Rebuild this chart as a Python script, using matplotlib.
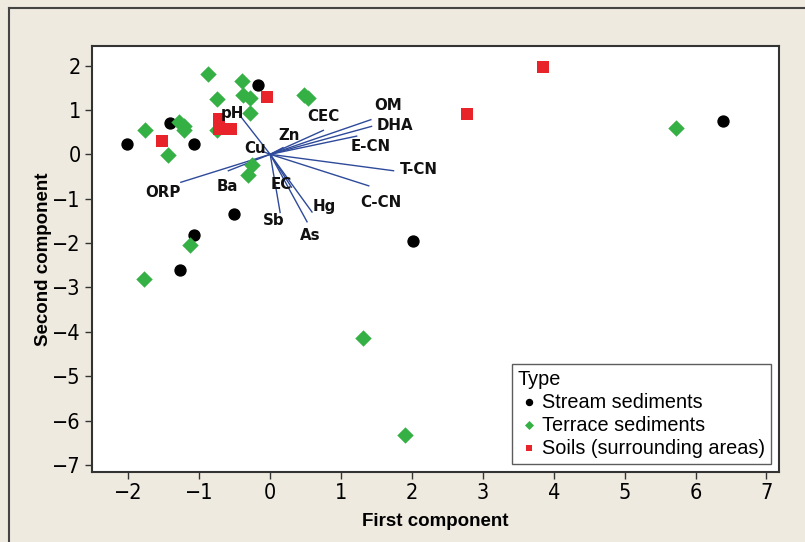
import matplotlib.pyplot as plt
from matplotlib.lines import Line2D

# PCA scores
stream_x = [-2.02, -1.41, -1.07, -0.17, -0.51, -1.07, -1.27, 2.02, 6.38]
stream_y = [0.23, 0.71, 0.23, 1.57, -1.35, -1.81, -2.61, -1.95, 0.74]

terrace_x = [-0.88, -0.40, 0.48, 0.53, -0.75, -0.38, -0.28, -0.29, -1.29, -1.22,
             -1.21, -1.76, -1.44, -0.75, -0.25, -0.31, -1.13, -1.78, 1.31, 1.90, 5.72]
terrace_y = [1.81, 1.65, 1.33, 1.28, 1.24, 1.33, 1.27, 0.93, 0.73, 0.64,
             0.55, 0.55, -0.01, 0.55, -0.23, -0.46, -2.04, -2.82, -4.13, -6.32, 0.60]

soil_x = [-0.05, -0.72, -0.72, -0.55, -1.53, 2.77, 3.85]
soil_y = [1.30, 0.80, 0.57, 0.57, 0.30, 0.91, 1.96]

# loading vectors and their labels
var_names = ["pH", "Cu", "Zn", "CEC", "OM", "DHA", "E-CN", "T-CN", "C-CN",
             "Hg", "As", "Sb", "EC", "Ba", "ORP"]
vec_x = [-0.43, -0.08, 0.18, 0.75, 1.42, 1.43, 1.22, 1.74, 1.39,
         0.59, 0.52, 0.14, 0.30, -0.59, -1.26]
vec_y = [0.88, 0.05, 0.15, 0.54, 0.78, 0.63, 0.41, -0.37, -0.71,
         -1.30, -1.52, -1.31, -0.74, -0.37, -0.63]
lab_x = [-0.53, -0.21, 0.27, 0.75, 1.67, 1.76, 1.42, 2.10, 1.56,
         0.76, 0.56, 0.05, 0.16, -0.60, -1.51]
lab_y = [0.93, 0.14, 0.42, 0.86, 1.09, 0.66, 0.18, -0.35, -1.08,
         -1.17, -1.83, -1.50, -0.67, -0.72, -0.87]

bg = "#EFEAE0"
fig = plt.figure(figsize=(8.05, 5.42), dpi=100, facecolor=bg)
ax = fig.add_axes([0.1143, 0.1297, 0.853, 0.7854])
ax.set_facecolor("white")

# outer frame lines (top and left)
fig.add_artist(Line2D([0.011, 1.0], [0.985, 0.985], color="#444444", lw=1.5,
                      transform=fig.transFigure))
fig.add_artist(Line2D([0.011, 0.011], [0.0, 0.985], color="#444444", lw=1.5,
                      transform=fig.transFigure))

for vx, vy in zip(vec_x, vec_y):
    ax.plot([0, vx], [0, vy], color="#2E4A9A", lw=1.0, zorder=2)

ax.scatter(stream_x, stream_y, s=62, marker="o", color="black", zorder=3,
           label="Stream sediments")
ax.scatter(terrace_x, terrace_y, s=70, marker="D", color="#35B045", zorder=3,
           label="Terrace sediments", linewidths=0)
ax.scatter(soil_x, soil_y, s=64, marker="s", color="#E8242A", zorder=4,
           label="Soils (surrounding areas)", linewidths=0)

for name, lx, ly in zip(var_names, lab_x, lab_y):
    ax.text(lx, ly, name, ha="center", va="center", fontsize=10.8,
            fontweight="bold", family="DejaVu Sans", color="#111111", zorder=5)

ax.set_xlim(-2.513, 7.172)
ax.set_ylim(-7.15, 2.44)
ax.set_xticks(range(-2, 8))
ax.set_yticks(range(-7, 3))

tick_kw = dict(family="DejaVu Sans", fontstretch="condensed", fontsize=15.5)
ax.set_xticklabels([str(v).replace("-", "\u2212") for v in range(-2, 8)], **tick_kw)
ax.set_yticklabels([str(v).replace("-", "\u2212") for v in range(-7, 3)], **tick_kw)
ax.tick_params(direction="out", length=5, width=1, color="#333333", pad=3)

for sp in ax.spines.values():
    sp.set_color("#333333")
    sp.set_linewidth(1.5)

ax.set_xlabel("First component", family="Liberation Sans", fontweight="bold",
              fontsize=13.5, labelpad=7)
ax.set_ylabel("Second component", family="Liberation Sans", fontweight="bold",
              fontsize=13.5, labelpad=0)

leg = ax.legend(title="Type", loc="lower right", bbox_to_anchor=(0.997, 0.005),
                prop={"family": "Liberation Sans", "size": 14.3},
                title_fontproperties={"family": "Liberation Sans", "size": 14.3},
                frameon=True, fancybox=False, edgecolor="#333333",
                handletextpad=0.1, handlelength=1.1, borderpad=0.3,
                labelspacing=0.2, markerscale=0.55, borderaxespad=0.3)
leg._legend_box.align = "left"
leg.get_frame().set_linewidth(1.0)

fig.savefig("out.png", dpi=100, facecolor=bg)
